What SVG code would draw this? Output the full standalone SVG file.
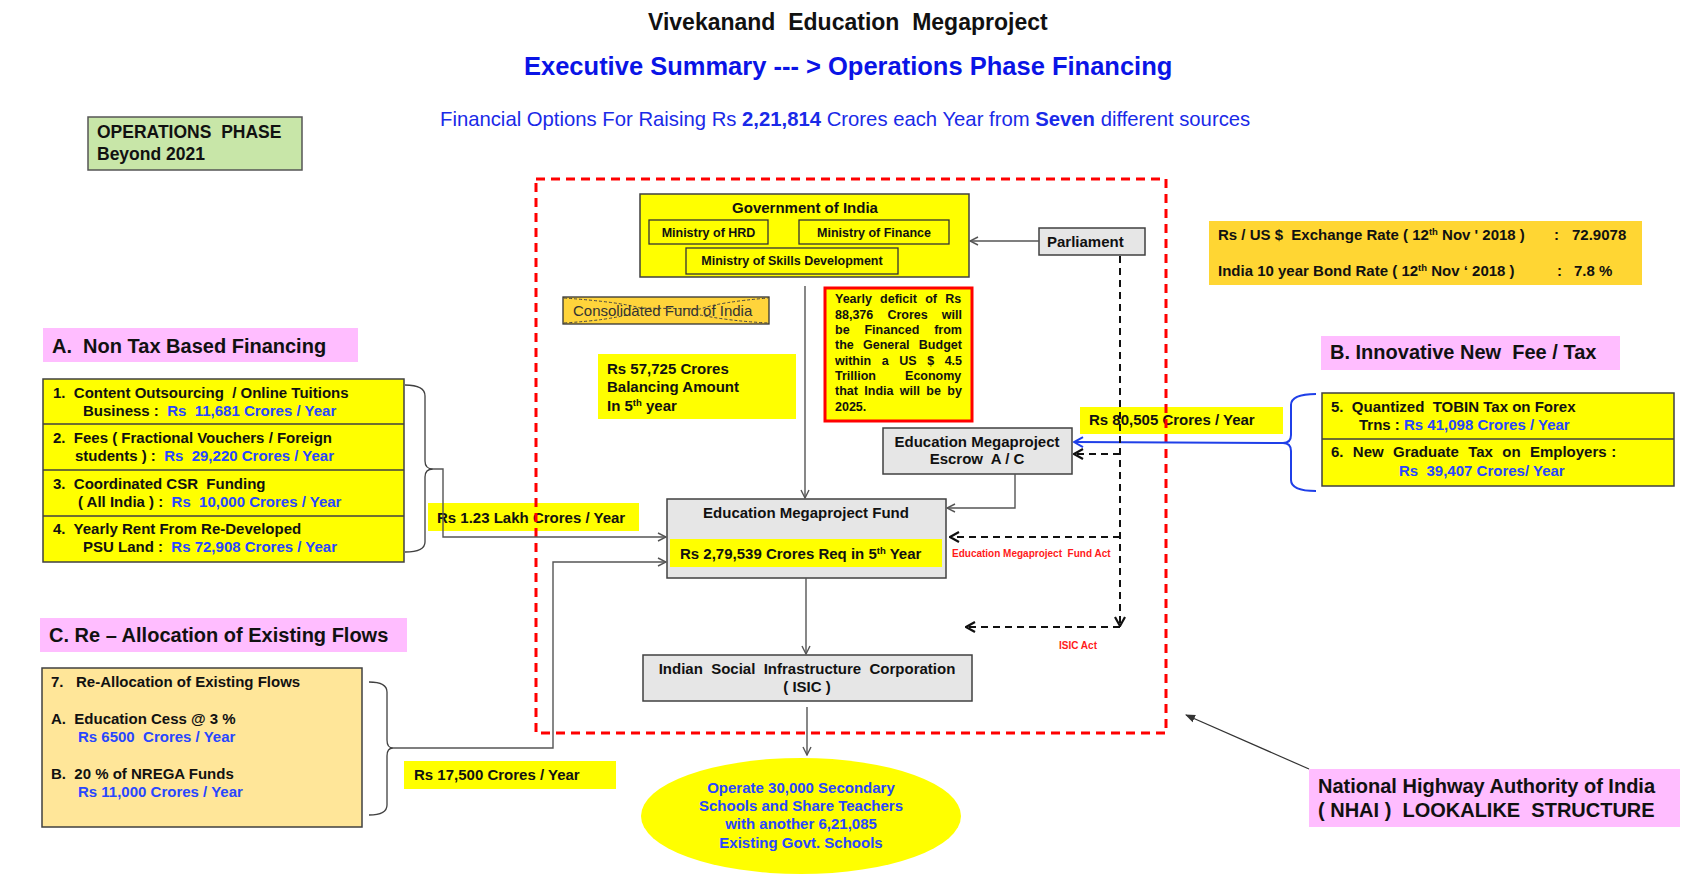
<svg xmlns="http://www.w3.org/2000/svg" width="1696" height="876" viewBox="0 0 1696 876" xml:space="preserve">
<defs>
<style>
text{font-family:"Liberation Sans",Arial,sans-serif;fill:#111;white-space:pre}
.b{font-weight:bold}
.f15{font-size:15px}
.f12{font-size:12.5px}
.f20{font-size:20px}
.blue{fill:#2846FF}
.red{fill:#FF1A1A}
.box{stroke:#404040;stroke-width:1.5}
.yel{fill:#FFFF00}
.gray{fill:#E6E6E6}
.pink{fill:#FFBDFF}
.conn{fill:none;stroke:#555;stroke-width:1.4}
.dash{fill:none;stroke:#111;stroke-width:2;stroke-dasharray:7 5}
</style>
<marker id="open" viewBox="0 0 10 10" refX="9" refY="5" markerWidth="10" markerHeight="10" markerUnits="userSpaceOnUse" orient="auto">
<path d="M1,1 L9,5 L1,9" fill="none" stroke="#555" stroke-width="1.4"/>
</marker>
<marker id="openk" viewBox="0 0 12 12" refX="11" refY="6" markerWidth="12" markerHeight="12" markerUnits="userSpaceOnUse" orient="auto">
<path d="M2,1 L11,6 L2,11" fill="none" stroke="#111" stroke-width="2.2"/>
</marker>
<marker id="openb" viewBox="0 0 12 12" refX="11" refY="6" markerWidth="12" markerHeight="12" markerUnits="userSpaceOnUse" orient="auto">
<path d="M2,1 L11,6 L2,11" fill="none" stroke="#1F3FE8" stroke-width="2"/>
</marker>
<marker id="tri" viewBox="0 0 10 10" refX="9" refY="5" markerWidth="10" markerHeight="10" markerUnits="userSpaceOnUse" orient="auto">
<path d="M0,1 L10,5 L0,9 Z" fill="#333"/>
</marker>
</defs>
<rect width="1696" height="876" fill="#fff"/>
<g id="titles">
<text x="648" y="30" class="b" font-size="23">Vivekanand  Education  Megaproject</text>
<text x="524" y="75" class="b" font-size="25.5" style="fill:#0A14E6">Executive Summary --- &gt; Operations Phase Financing</text>
<text x="440" y="126" font-size="20.3" style="fill:#1A2AE8">Financial Options For Raising Rs <tspan class="b" style="fill:#1A2AE8">2,21,814</tspan> Crores each Year from <tspan class="b" style="fill:#1A2AE8">Seven</tspan> different sources</text>
</g>
<g id="ops-phase">
<rect x="88" y="117" width="214" height="53" fill="#C8E6A8" stroke="#555" stroke-width="1.5"/>
<text x="97" y="138" class="b" font-size="17.5">OPERATIONS  PHASE</text>
<text x="97" y="160" class="b" font-size="17.5">Beyond 2021</text>
</g>
<g id="label-123">
<rect x="428" y="503" width="211" height="28" fill="#FFFF00"/>
<text x="437" y="523" class="b f15">Rs 1.23 Lakh Crores / Year</text>
</g>
<g id="label-80505">
<rect x="1080" y="407" width="203" height="27" fill="#FFFF00"/>
<text x="1089" y="425" class="b f15">Rs 80,505 Crores / Year</text>
</g>
<rect id="isic-boundary" x="536" y="179" width="630" height="554" fill="none" stroke="#FF0000" stroke-width="3" stroke-dasharray="9 6"/>
<g id="gov">
<rect x="640" y="194" width="329" height="83" class="yel box"/>
<text x="805" y="213" class="b f15" text-anchor="middle">Government of India</text>
<rect x="649" y="220" width="119" height="24" fill="none" stroke="#333" stroke-width="1.3"/>
<text x="708.5" y="237" class="b f12" text-anchor="middle">Ministry of HRD</text>
<rect x="799" y="220" width="150" height="24" fill="none" stroke="#333" stroke-width="1.3"/>
<text x="874" y="237" class="b f12" text-anchor="middle">Ministry of Finance</text>
<rect x="686" y="248" width="212" height="26" fill="none" stroke="#333" stroke-width="1.3"/>
<text x="792" y="265" class="b f12" text-anchor="middle">Ministry of Skills Development</text>
</g>
<g id="parliament">
<rect x="1039" y="228" width="106" height="27" class="gray box"/>
<text x="1047" y="247" class="b f15">Parliament</text>
</g>
<g id="consolidated-fund">
<rect x="563" y="297" width="206" height="27" fill="#FFD43B" stroke="#333" stroke-width="1.3"/>
<path d="M564,298 Q620,302 640,308 L700,309 Q720,302 768,298 M564,323 Q610,320 630,314 M700,315 Q730,321 768,323" fill="none" stroke="#444" stroke-width="1" stroke-dasharray="3 2"/>
<text x="573" y="316" font-size="15" style="fill:#333">Consolidated Fund of India</text>
</g>
<g id="balancing">
<rect x="598" y="354" width="198" height="65" fill="#FFFF00"/>
<text x="607" y="374" class="b f15">Rs 57,725 Crores</text>
<text x="607" y="392" class="b f15">Balancing Amount</text>
<text x="607" y="411" class="b f15">In 5<tspan font-size="9.5" dy="-5">th</tspan><tspan dy="5"> year</tspan></text>
</g>
<g id="deficit">
<rect x="825" y="288" width="147" height="133" fill="#FFFF00" stroke="#FF0000" stroke-width="3"/>
<text x="835" y="303" class="b f12" word-spacing="4.8">Yearly deficit of Rs</text>
<text x="835" y="319" class="b f12" word-spacing="10.7">88,376 Crores will</text>
<text x="835" y="334" class="b f12" word-spacing="11.4">be Financed from</text>
<text x="835" y="349" class="b f12" word-spacing="5.8">the General Budget</text>
<text x="835" y="365" class="b f12" word-spacing="7.1">within a US $ 4.5</text>
<text x="835" y="380" class="b f12" word-spacing="25.6">Trillion Economy</text>
<text x="835" y="395" class="b f12" word-spacing="2.9">that India will be by</text>
<text x="835" y="411" class="b f12">2025.</text>
</g>
<g id="escrow">
<rect x="883" y="428" width="189" height="46" class="gray box"/>
<text x="977" y="447" class="b f15" text-anchor="middle">Education Megaproject</text>
<text x="977" y="464" class="b f15" text-anchor="middle">Escrow  A / C</text>
</g>
<g id="em-fund">
<rect x="667" y="499" width="279" height="79" class="gray box"/>
<text x="806" y="518" class="b f15" text-anchor="middle">Education Megaproject Fund</text>
<rect x="670" y="539" width="272" height="28" fill="#FFFF00"/>
<text x="680" y="559" class="b f15">Rs 2,79,539 Crores Req in 5<tspan font-size="9.5" dy="-5">th</tspan><tspan dy="5"> Year</tspan></text>
</g>
<g id="isic">
<rect x="643" y="655" width="329" height="46" class="gray box"/>
<text x="807" y="674" class="b f15" text-anchor="middle">Indian  Social  Infrastructure  Corporation</text>
<text x="807" y="692" class="b f15" text-anchor="middle">( ISIC )</text>
</g>
<g id="schools">
<ellipse cx="801" cy="816" rx="160" ry="58" fill="#FFFF00"/>
<text x="801" y="793" class="b f15 blue" text-anchor="middle">Operate 30,000 Secondary</text>
<text x="801" y="811" class="b f15 blue" text-anchor="middle">Schools and Share Teachers</text>
<text x="801" y="829" class="b f15 blue" text-anchor="middle">with another 6,21,085</text>
<text x="801" y="848" class="b f15 blue" text-anchor="middle">Existing Govt. Schools</text>
</g>
<g id="acts">
<text x="952" y="557" class="b red" font-size="10">Education Megaproject  Fund Act</text>
<text x="1059" y="649" class="b red" font-size="10">ISIC Act</text>
</g>
<g id="header-a">
<rect x="43" y="328" width="315" height="34" class="pink"/>
<text x="52" y="353" class="b f20">A.  Non Tax Based Financing</text>
</g>
<g id="box-a">
<rect x="43" y="379" width="361" height="183" class="yel box"/>
<line x1="43" y1="424" x2="404" y2="424" stroke="#404040" stroke-width="1.3"/>
<line x1="43" y1="470" x2="404" y2="470" stroke="#404040" stroke-width="1.3"/>
<line x1="43" y1="516" x2="404" y2="516" stroke="#404040" stroke-width="1.3"/>
<text x="53" y="398" class="b f15">1.  Content Outsourcing  / Online Tuitions</text>
<text x="83" y="416" class="b f15">Business :  <tspan class="blue">Rs  11,681 Crores / Year</tspan></text>
<text x="53" y="443" class="b f15">2.  Fees ( Fractional Vouchers / Foreign</text>
<text x="75" y="461" class="b f15">students ) :  <tspan class="blue">Rs  29,220 Crores / Year</tspan></text>
<text x="53" y="489" class="b f15">3.  Coordinated CSR  Funding</text>
<text x="78" y="507" class="b f15">( All India ) :  <tspan class="blue">Rs  10,000 Crores / Year</tspan></text>
<text x="53" y="534" class="b f15">4.  Yearly Rent From Re-Developed</text>
<text x="83" y="552" class="b f15">PSU Land :  <tspan class="blue">Rs 72,908 Crores / Year</tspan></text>
</g>
<g id="header-c">
<rect x="40" y="618" width="367" height="34" class="pink"/>
<text x="49" y="642" class="b f20">C. Re – Allocation of Existing Flows</text>
</g>
<g id="box-c">
<rect x="42" y="668" width="320" height="159" fill="#FFE699" stroke="#404040" stroke-width="1.5"/>
<text x="51" y="687" class="b f15">7.   Re-Allocation of Existing Flows</text>
<text x="51" y="724" class="b f15">A.  Education Cess @ 3 %</text>
<text x="78" y="742" class="b f15 blue">Rs 6500  Crores / Year</text>
<text x="51" y="779" class="b f15">B.  20 % of NREGA Funds</text>
<text x="78" y="797" class="b f15 blue">Rs 11,000 Crores / Year</text>
</g>
<g id="label-17500">
<rect x="404" y="761" width="212" height="28" fill="#FFFF00"/>
<text x="414" y="780" class="b f15">Rs 17,500 Crores / Year</text>
</g>
<g id="header-b">
<rect x="1321" y="336" width="299" height="34" class="pink"/>
<text x="1330" y="359" class="b f20">B. Innovative New  Fee / Tax</text>
</g>
<g id="box-b">
<rect x="1322" y="393" width="352" height="93" class="yel box"/>
<line x1="1322" y1="439" x2="1674" y2="439" stroke="#404040" stroke-width="1.3"/>
<text x="1331" y="412" class="b f15">5.  Quantized  TOBIN Tax on Forex</text>
<text x="1359" y="430" class="b f15">Trns : <tspan class="blue">Rs 41,098 Crores / Year</tspan></text>
<text x="1331" y="457" class="b f15" word-spacing="0.5">6.  New  Graduate  Tax  on  Employers :</text>
<text x="1399" y="476" class="b f15 blue">Rs  39,407 Crores/ Year</text>
</g>
<g id="rates">
<rect x="1209" y="221" width="433" height="64" fill="#FFD633"/>
<text x="1218" y="240" class="b f15">Rs / US $  Exchange Rate ( 12<tspan font-size="9.5" dy="-5">th</tspan><tspan dy="5"> Nov ' 2018 )</tspan></text>
<text x="1554" y="240" class="b f15">:</text>
<text x="1572" y="240" class="b f15">72.9078</text>
<text x="1218" y="276" class="b f15">India 10 year Bond Rate ( 12<tspan font-size="9.5" dy="-5">th</tspan><tspan dy="5"> Nov ‘ 2018 )</tspan></text>
<text x="1557" y="276" class="b f15">:</text>
<text x="1574" y="276" class="b f15">7.8 %</text>
</g>
<g id="nhai">
<rect x="1309" y="769" width="371" height="58" class="pink"/>
<text x="1318" y="793" class="b f20">National Highway Authority of India</text>
<text x="1318" y="817" class="b f20">( NHAI )  LOOKALIKE  STRUCTURE</text>
</g>
<g id="connectors">
<line x1="1039" y1="241" x2="970" y2="241" class="conn" marker-end="url(#open)"/>
<line x1="805" y1="286" x2="805" y2="498" class="conn" marker-end="url(#open)"/>
<polyline points="1015,474 1015,508 947,508" class="conn" marker-end="url(#open)"/>
<line x1="806" y1="578" x2="806" y2="654" class="conn" marker-end="url(#open)"/>
<line x1="807" y1="707" x2="807" y2="755" class="conn" marker-end="url(#open)"/>
<path d="M405,385 Q425,385 425,396 L425,461 Q425,469 433,469 Q425,469 425,477 L425,542 Q425,552 405,552" fill="none" stroke="#404040" stroke-width="1.3"/>
<polyline points="433,469 443,469 443,537 666,537" class="conn" marker-end="url(#open)"/>
<path d="M369,682 Q387,682 387,692 L387,740 Q387,748 393,748 Q387,748 387,756 L387,805 Q387,815 369,815" fill="none" stroke="#404040" stroke-width="1.3"/>
<polyline points="393,748 553,748 553,562 666,562" class="conn" marker-end="url(#open)"/>
<path d="M1316,394 Q1291,394 1291,405 L1291,435 Q1291,443 1283,443 Q1291,443 1291,451 L1291,480 Q1291,491 1316,491" fill="none" stroke="#1F3FE8" stroke-width="2"/>
<line x1="1283" y1="443" x2="1074" y2="442" stroke="#1F3FE8" stroke-width="2" marker-end="url(#openb)"/>
<line x1="1120" y1="256" x2="1120" y2="626" class="dash" marker-end="url(#openk)"/>
<line x1="1120" y1="454" x2="1074" y2="454" class="dash" marker-end="url(#openk)"/>
<line x1="1120" y1="537" x2="950" y2="537" class="dash" marker-end="url(#openk)"/>
<line x1="1120" y1="627" x2="966" y2="627" class="dash" marker-end="url(#openk)"/>
<line x1="1309" y1="769" x2="1186" y2="715" stroke="#333" stroke-width="1.2" marker-end="url(#tri)"/>
</g>
</svg>
